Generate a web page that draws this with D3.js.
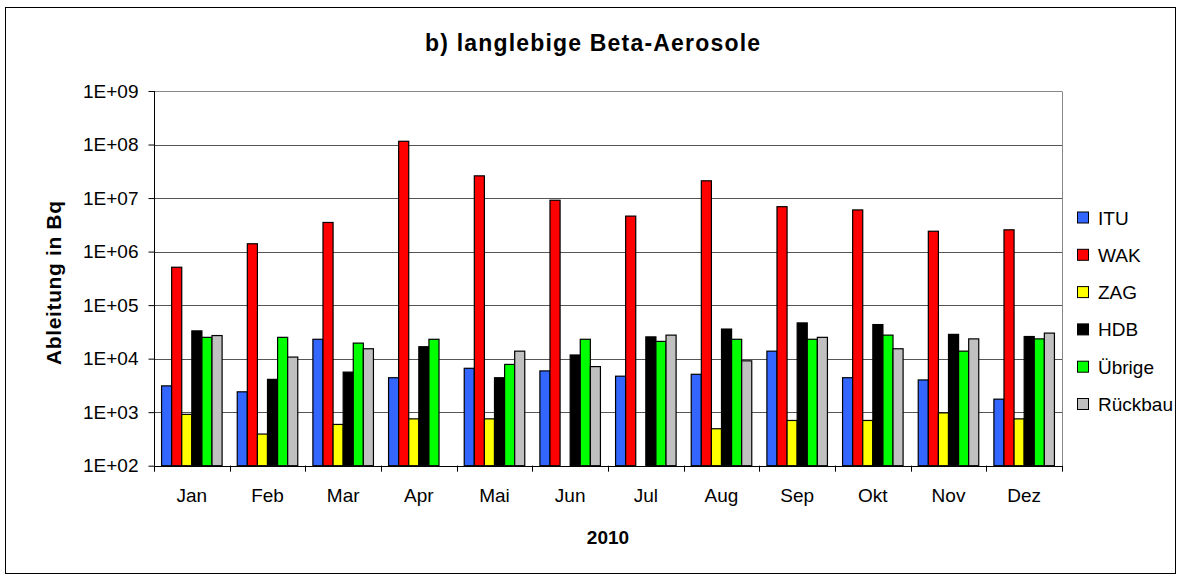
<!DOCTYPE html>
<html><head><meta charset="utf-8">
<script src="https://cdn.jsdelivr.net/npm/d3@7"></script>
<style>body{margin:0;background:#fff;}svg{display:block;font-family:"Liberation Sans",Arial,sans-serif;}</style>
</head><body>
<svg id="c" width="1182" height="580"></svg>
<script>
const months = ["Jan","Feb","Mar","Apr","Mai","Jun","Jul","Aug","Sep","Okt","Nov","Dez"];
const seriesNames = ["ITU","WAK","ZAG","HDB","Übrige","Rückbau"];
const seriesColors = ["#3366FF","#FF0000","#FFFF00","#000000","#00FF00","#C0C0C0"];
const ITU = [3100,2400,23000,4400,6600,5900,4700,5100,13800,4400,4000,1750];
const WAK = [5.1e5,1.4e6,3.5e6,1.15e8,2.6e7,9.1e6,4.6e6,2.1e7,6.9e6,6.0e6,2.4e6,2.55e6];
const ZAG = [910,390,590,750,750,null,null,490,700,700,970,750];
const HDB = [33000,4100,5600,16700,4400,11700,25500,35700,46500,43300,28400,25900];
const Uebrige = [25000,25000,19500,23000,7800,23000,21000,23000,23000,27500,13800,23400];
const Rueckbau = [27000,10700,15300,null,13800,7100,27500,9100,25000,15300,23400,30000];
const yTicks = [1e2,1e3,1e4,1e5,1e6,1e7,1e8,1e9];
const yTickLabels = ["1E+02","1E+03","1E+04","1E+05","1E+06","1E+07","1E+08","1E+09"];
const seriesData = [ITU,WAK,ZAG,HDB,Uebrige,Rueckbau];

const svg = d3.select("#c");
svg.append("rect").attr("x",5.5).attr("y",7.5).attr("width",1170).attr("height",566)
  .attr("fill","#fff").attr("stroke","#000").attr("stroke-width",1);

const L=154, R=1062, T=91, B=465.7;
const x = d3.scaleBand().domain(months).range([L,R]).paddingInner(0).paddingOuter(0);
const bw = x.bandwidth()/7.5;
const y = d3.scaleLog().domain([1e2,1e9]).range([B,T]);

// gridlines
svg.append("g").selectAll("line").data(yTicks.slice(1)).join("line")
  .attr("x1",L).attr("x2",R).attr("y1",d=>Math.round(y(d))+0.5).attr("y2",d=>Math.round(y(d))+0.5)
  .attr("stroke","#555").attr("stroke-width",1);
svg.append("line").attr("x1",R+0.5).attr("x2",R+0.5).attr("y1",Math.round(T)+0.5).attr("y2",B)
  .attr("stroke","#888");
svg.append("line").attr("x1",L).attr("x2",R).attr("y1",Math.round(T)+0.5).attr("y2",Math.round(T)+0.5)
  .attr("stroke","#888");

// bars
seriesData.forEach((vals,si)=>{
  svg.append("g").selectAll("rect").data(months.map((m,i)=>({m,v:vals[i]})).filter(d=>d.v!=null))
    .join("rect")
    .attr("x",d=>x(d.m)+bw*0.75+si*bw)
    .attr("width",bw)
    .attr("y",d=>y(d.v))
    .attr("height",d=>B-y(d.v))
    .attr("fill",seriesColors[si]).attr("stroke","#000").attr("stroke-width",1.2);
});

// y axis
const yAxis = d3.axisLeft(y).tickValues(yTicks).tickFormat((d,i)=>yTickLabels[i]).tickSize(6).tickPadding(10);
const gy = svg.append("g").attr("transform",`translate(${L+0.5},0)`).call(yAxis);
gy.selectAll("text").attr("font-size",19).attr("fill","#000").attr("font-family","Liberation Sans, Arial");
gy.selectAll("line,path").attr("stroke","#000");
gy.select(".domain").attr("d",`M0,${T}V${B}`);

// x axis
const xAxis = d3.axisBottom(x).tickSize(0).tickPadding(22);
const gx = svg.append("g").attr("transform",`translate(0,${Math.round(B)+0.5})`).call(xAxis);
gx.selectAll("text").attr("font-size",19).attr("fill","#000").attr("font-family","Liberation Sans, Arial");
gx.select(".domain").attr("stroke","#000").attr("d",`M${L},0H${R}`);
const bounds = months.map(m=>x(m)).concat([R]);
svg.append("g").selectAll("line").data(bounds).join("line")
  .attr("x1",d=>Math.round(d)+0.5).attr("x2",d=>Math.round(d)+0.5)
  .attr("y1",B).attr("y2",B+6).attr("stroke","#000");

// titles
svg.append("text").attr("x",592.5).attr("y",51).attr("text-anchor","middle")
  .attr("font-size",23).attr("font-weight","bold")
  .attr("textLength",335).attr("lengthAdjust","spacing").text("b) langlebige Beta-Aerosole");
svg.append("text").attr("transform",`translate(61,283) rotate(-90)`).attr("text-anchor","middle")
  .attr("font-size",21).attr("font-weight","bold")
  .attr("textLength",164).attr("lengthAdjust","spacing").text("Ableitung in Bq");
svg.append("text").attr("x",(L+R)/2).attr("y",544).attr("text-anchor","middle")
  .attr("font-size",19).attr("font-weight","bold").text("2010");

// legend
const lg = svg.append("g");
seriesNames.forEach((n,i)=>{
  const yy = 217.5 + i*37.3;
  lg.append("rect").attr("x",1077.5).attr("y",yy-5.5).attr("width",11).attr("height",11)
    .attr("fill",seriesColors[i]).attr("stroke","#000").attr("stroke-width",1);
  lg.append("text").attr("x",1098).attr("y",yy+7).attr("font-size",19).text(n);
});
</script>
</body></html>
